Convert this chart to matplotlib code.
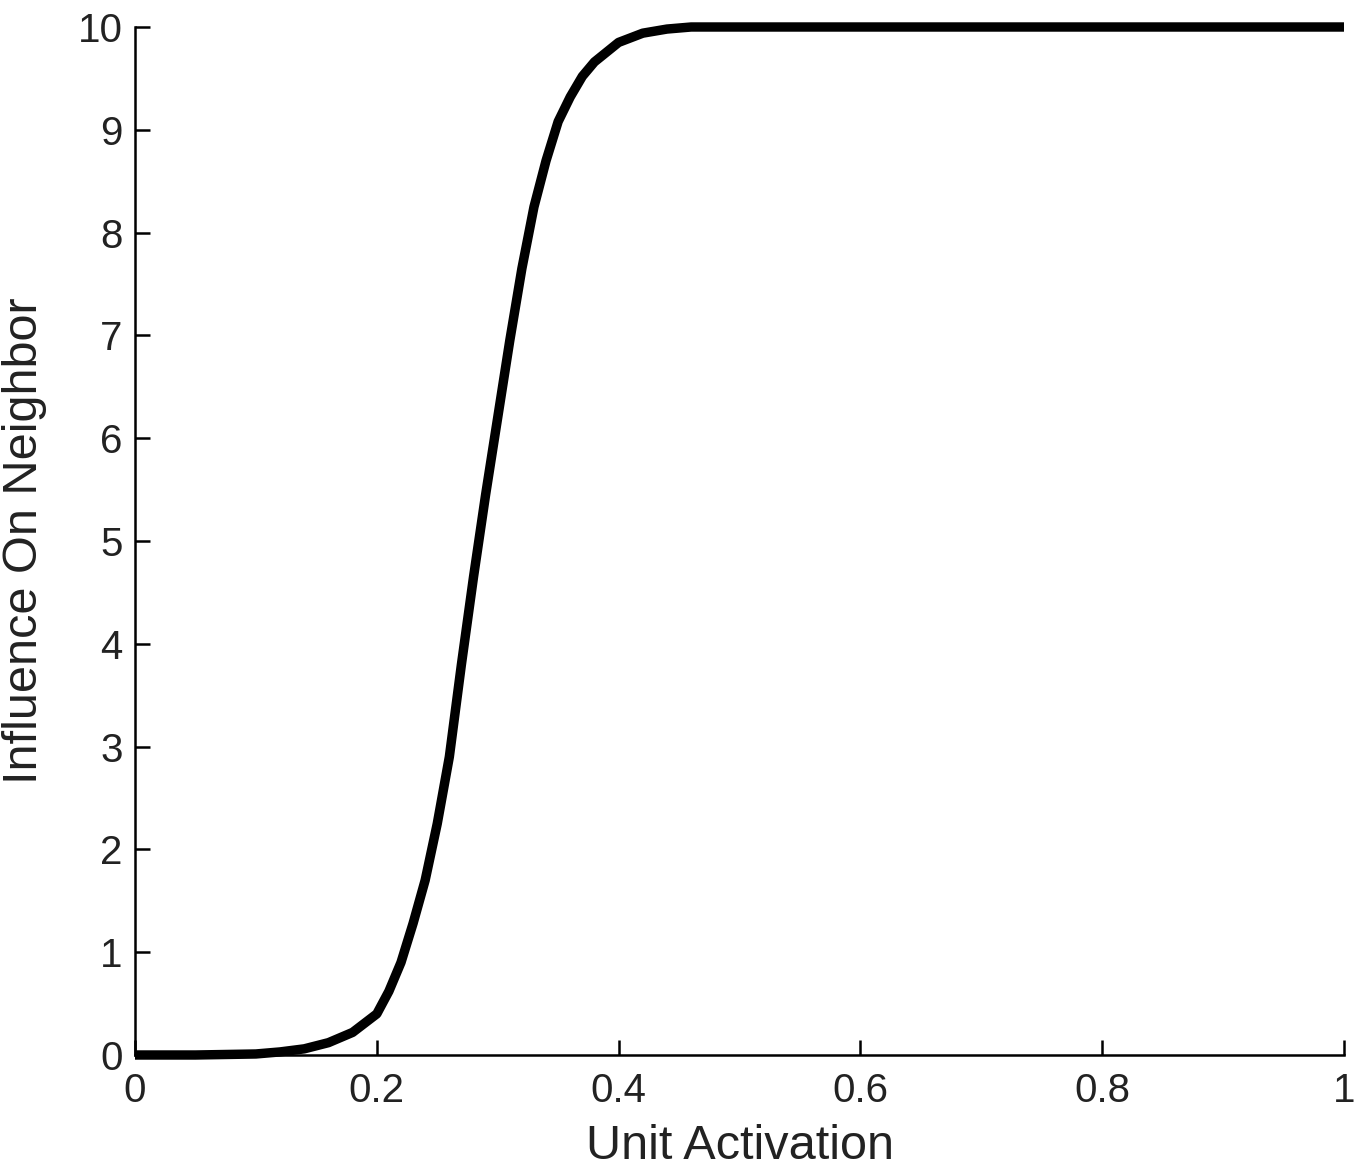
import matplotlib
matplotlib.use("Agg")
import matplotlib.pyplot as plt

activation = [0.0, 0.05, 0.10, 0.12, 0.14, 0.16, 0.18, 0.20, 0.21, 0.22, 0.23,
              0.24, 0.25, 0.26, 0.27, 0.28, 0.29, 0.30, 0.31, 0.32, 0.33, 0.34,
              0.35, 0.36, 0.37, 0.38, 0.40, 0.42, 0.44, 0.46, 0.50, 1.0]
influence = [0.0, 0.0, 0.01, 0.03, 0.06, 0.12, 0.22, 0.40, 0.62, 0.90, 1.28,
             1.70, 2.25, 2.90, 3.80, 4.65, 5.45, 6.20, 6.95, 7.65, 8.25, 8.70,
             9.08, 9.32, 9.52, 9.66, 9.85, 9.94, 9.98, 10.0, 10.0, 10.0]

xticks = [0, 0.2, 0.4, 0.6, 0.8, 1]
xticklabels = ["0", "0.2", "0.4", "0.6", "0.8", "1"]
yticks = list(range(0, 11))
yticklabels = [str(v) for v in yticks]

plt.rcParams['font.family'] = ['Liberation Sans', 'DejaVu Sans']

fig = plt.figure(figsize=(13.66, 11.69), dpi=100)
ax = fig.add_axes([135/1366, 1 - 1055/1169, (1344-135)/1366, (1055-27)/1169])

ax.plot(activation, influence, color='black', linewidth=6.8, clip_on=False,
        solid_capstyle='butt', solid_joinstyle='round')

ax.set_xlim(0, 1)
ax.set_ylim(0, 10)
ax.set_xticks(xticks)
ax.set_xticklabels(xticklabels)
ax.set_yticks(yticks)
ax.set_yticklabels(yticklabels)

for side in ['top', 'right']:
    ax.spines[side].set_visible(False)
for side in ['left', 'bottom']:
    ax.spines[side].set_linewidth(1.8)
    ax.spines[side].set_color('black')

ax.tick_params(axis='both', direction='in', length=11, width=1.8,
               labelsize=29, colors='black', labelcolor='#222222')
ax.tick_params(axis='y', pad=9)
ax.tick_params(axis='x', pad=12)

ax.set_xlabel("Unit Activation", fontsize=35, color='#222222', labelpad=10)
ax.set_ylabel("Influence On Neighbor", fontsize=35, color='#222222', labelpad=22)

fig.savefig("out.png", dpi=100, facecolor='white')
